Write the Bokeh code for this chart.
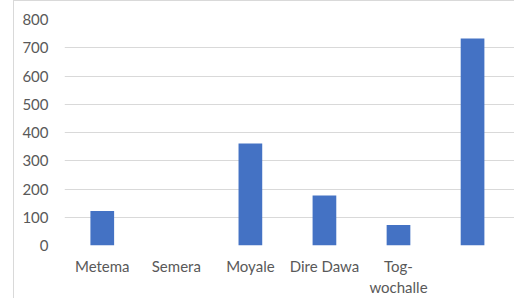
from bokeh.plotting import figure
from bokeh.models import Range1d, FixedTicker, ColumnDataSource, Spacer
from bokeh.layouts import row
from bokeh.embed import file_html
from bokeh.resources import INLINE

categories = ["Metema", "Semera", "Moyale", "Dire Dawa", "Tog-\nwochalle", ""]
values = [122, 0, 361, 177, 73, 733]
y_ticks = [0, 100, 200, 300, 400, 500, 600, 700, 800]

positions = list(range(1, len(categories) + 1))
src = ColumnDataSource(dict(x=positions, top=values))

p = figure(width=501, height=298, output_backend="svg", toolbar_location=None,
           x_range=Range1d(0.49, 6.58), y_range=Range1d(0, 800),
           min_border_left=50, min_border_right=0, min_border_top=18, min_border_bottom=49,
           styles={"border-left": "1px solid #d9d9d9", "border-top": "1px solid #d9d9d9"})
p.outline_line_color = None
p.background_fill_color = "white"
p.border_fill_color = "white"

p.vbar(x="x", top="top", width=0.32, bottom=0, source=src, fill_color="#4472C4", line_color=None)

p.yaxis.ticker = FixedTicker(ticks=y_ticks)
p.xaxis.ticker = FixedTicker(ticks=positions)
p.xaxis.major_label_overrides = {pos: lab for pos, lab in zip(positions, categories)}

for ax in (p.xaxis[0], p.yaxis[0]):
    ax.axis_line_color = None
    ax.major_tick_line_color = None
    ax.minor_tick_line_color = None
    ax.major_tick_out = 0
    ax.major_tick_in = 0
    ax.major_label_text_font = "Lato"
    ax.major_label_text_font_size = "15px"
    ax.major_label_text_color = "#595959"
p.yaxis.major_label_standoff = 16
p.xaxis.major_label_standoff = 11

p.xgrid.grid_line_color = None
p.ygrid.grid_line_color = "#d9d9d9"
p.ygrid.grid_line_width = 1
p.ygrid.ticker = FixedTicker(ticks=y_ticks)

layout = row(Spacer(width=13, height=298), p)
open("out.html", "w").write(file_html(layout, INLINE))
